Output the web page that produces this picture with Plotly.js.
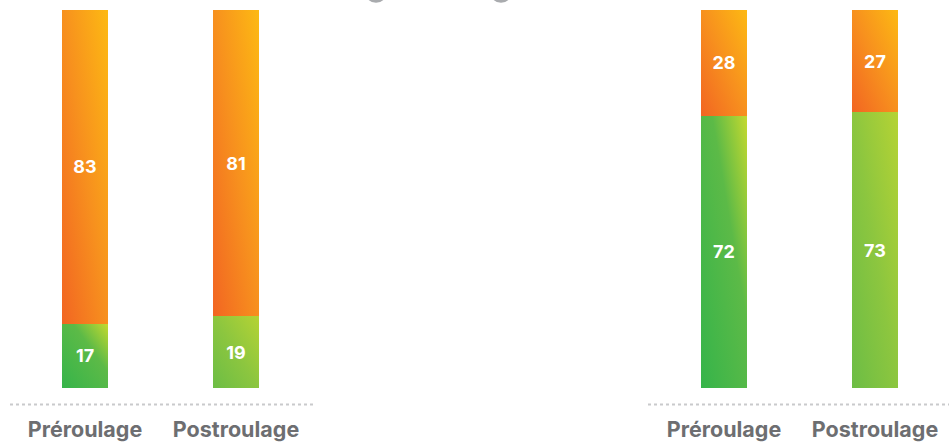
<!DOCTYPE html>
<html><head><meta charset="utf-8">
<script src="https://cdn.plot.ly/plotly-3.0.1.min.js"></script>
<style>html,body{margin:0;padding:0;background:#fff}#chart{width:949px;height:444px}</style>
</head><body><div id="chart"></div>
<script>
const categories = ['Préroulage', 'Postroulage'];
const leftGreen = [17, 19];
const leftOrange = [83, 81];
const rightGreen = [72, 73];
const rightOrange = [28, 27];

const labelFont = {family: 'Inter, Liberation Sans, Arial, sans-serif', size: 18, color: '#ffffff', weight: 'bold'};
function barTrace(vals, xa, ya, color, kind) {
  return {
    type: 'bar', x: categories, y: vals, xaxis: xa, yaxis: ya,
    text: vals.map(String), textposition: 'inside', insidetextanchor: 'middle',
    textangle: 0, constraintext: 'none', textfont: labelFont,
    marker: {color: color, line: {width: 0}}, hoverinfo: 'skip',
    meta: kind
  };
}
const data = [
  barTrace(leftGreen, 'x', 'y', '#5cb947', 'green'),
  barTrace(leftOrange, 'x', 'y', '#f7941d', 'orange'),
  barTrace(rightGreen, 'x2', 'y2', '#5cb947', 'green'),
  barTrace(rightOrange, 'x2', 'y2', '#f7941d', 'orange')
];
const tickFont = {family: 'Inter, Liberation Sans, Arial, sans-serif', size: 21.5, color: '#6d6e71', weight: 'bold'};
const xBase = {type: 'category', showgrid: false, zeroline: false, showline: false, ticks: '',
  tickfont: tickFont, ticklabelstandoff: 26, fixedrange: true};
const yBase = {range: [0, 100], visible: false, showgrid: false, zeroline: false, fixedrange: true};
const W = 949;
const layout = {
  width: 949, height: 444, barmode: 'stack', bargap: 0.695, showlegend: false,
  margin: {l: 0, r: 0, t: 9.5, b: 55.5}, paper_bgcolor: '#fff', plot_bgcolor: '#fff',
  xaxis: Object.assign({}, xBase, {domain: [9.5 / W, 311.5 / W], range: [-0.5, 1.5], anchor: 'y'}),
  yaxis: Object.assign({}, yBase, {anchor: 'x'}),
  xaxis2: Object.assign({}, xBase, {domain: [648.5 / W, 1], range: [-0.5, 1.49], anchor: 'y2'}),
  yaxis2: Object.assign({}, yBase, {anchor: 'x2'}),
  shapes: [
    {type: 'line', xref: 'paper', yref: 'paper', x0: 10 / W, x1: 315 / W, y0: -0.0435, y1: -0.0435,
      line: {color: '#c9cacc', width: 2, dash: 'dot'}},
    {type: 'line', xref: 'paper', yref: 'paper', x0: 648 / W, x1: 1, y0: -0.0435, y1: -0.0435,
      line: {color: '#c9cacc', width: 2, dash: 'dot'}},
    {type: 'circle', xref: 'paper', yref: 'paper', xsizemode: 'pixel', ysizemode: 'pixel',
      xanchor: 376 / W, yanchor: 1.048, x0: -11, x1: 11, y0: -11, y1: 11,
      fillcolor: '#a9abae', line: {width: 0}},
    {type: 'circle', xref: 'paper', yref: 'paper', xsizemode: 'pixel', ysizemode: 'pixel',
      xanchor: 501 / W, yanchor: 1.048, x0: -11, x1: 11, y0: -11, y1: 11,
      fillcolor: '#a9abae', line: {width: 0}}
  ]
};
const gradients = {
  'orange-0': [['0', '#f26522'], ['0.5', '#f7901e'], ['1', '#fdb913']],
  'orange-1': [['0', '#f26522'], ['0.5', '#f7901e'], ['1', '#fdb913']],
  'green-0': [['0', '#35b44a'], ['0.62', '#5cba47'], ['1', '#c4d92f']],
  'green-1': [['0', '#6cbd45'], ['0.5', '#8cc63f'], ['1', '#b5d334']]
};
const gd = document.getElementById('chart');
Plotly.newPlot(gd, data, layout, {displayModeBar: false, staticPlot: true}).then(function () {
  const NS = 'http://www.w3.org/2000/svg';
  const svg = gd.querySelector('svg.main-svg');
  let defs = svg.querySelector('defs');
  if (!defs) { defs = document.createElementNS(NS, 'defs'); svg.insertBefore(defs, svg.firstChild); }
  Object.keys(gradients).forEach(function (k) {
    const lg = document.createElementNS(NS, 'linearGradient');
    lg.setAttribute('id', 'grad-' + k);
    lg.setAttribute('x1', '0'); lg.setAttribute('y1', '1');
    lg.setAttribute('x2', '1'); lg.setAttribute('y2', '0');
    gradients[k].forEach(function (s) {
      const st = document.createElementNS(NS, 'stop');
      st.setAttribute('offset', s[0]); st.setAttribute('stop-color', s[1]);
      lg.appendChild(st);
    });
    defs.appendChild(lg);
  });
  gd.querySelectorAll('g.trace.bars').forEach(function (tg) {
    const cd = tg.__data__;
    const tr = cd && cd[0] && cd[0].trace;
    if (!tr) return;
    tg.querySelectorAll('g.point').forEach(function (pg) {
      const pd = pg.__data__;
      const i = pd && typeof pd.i === 'number' ? pd.i : 0;
      const path = pg.querySelector('path');
      if (path) path.style.fill = 'url(#grad-' + tr.meta + '-' + i + ')';
    });
  });
});
</script>
</body></html>
